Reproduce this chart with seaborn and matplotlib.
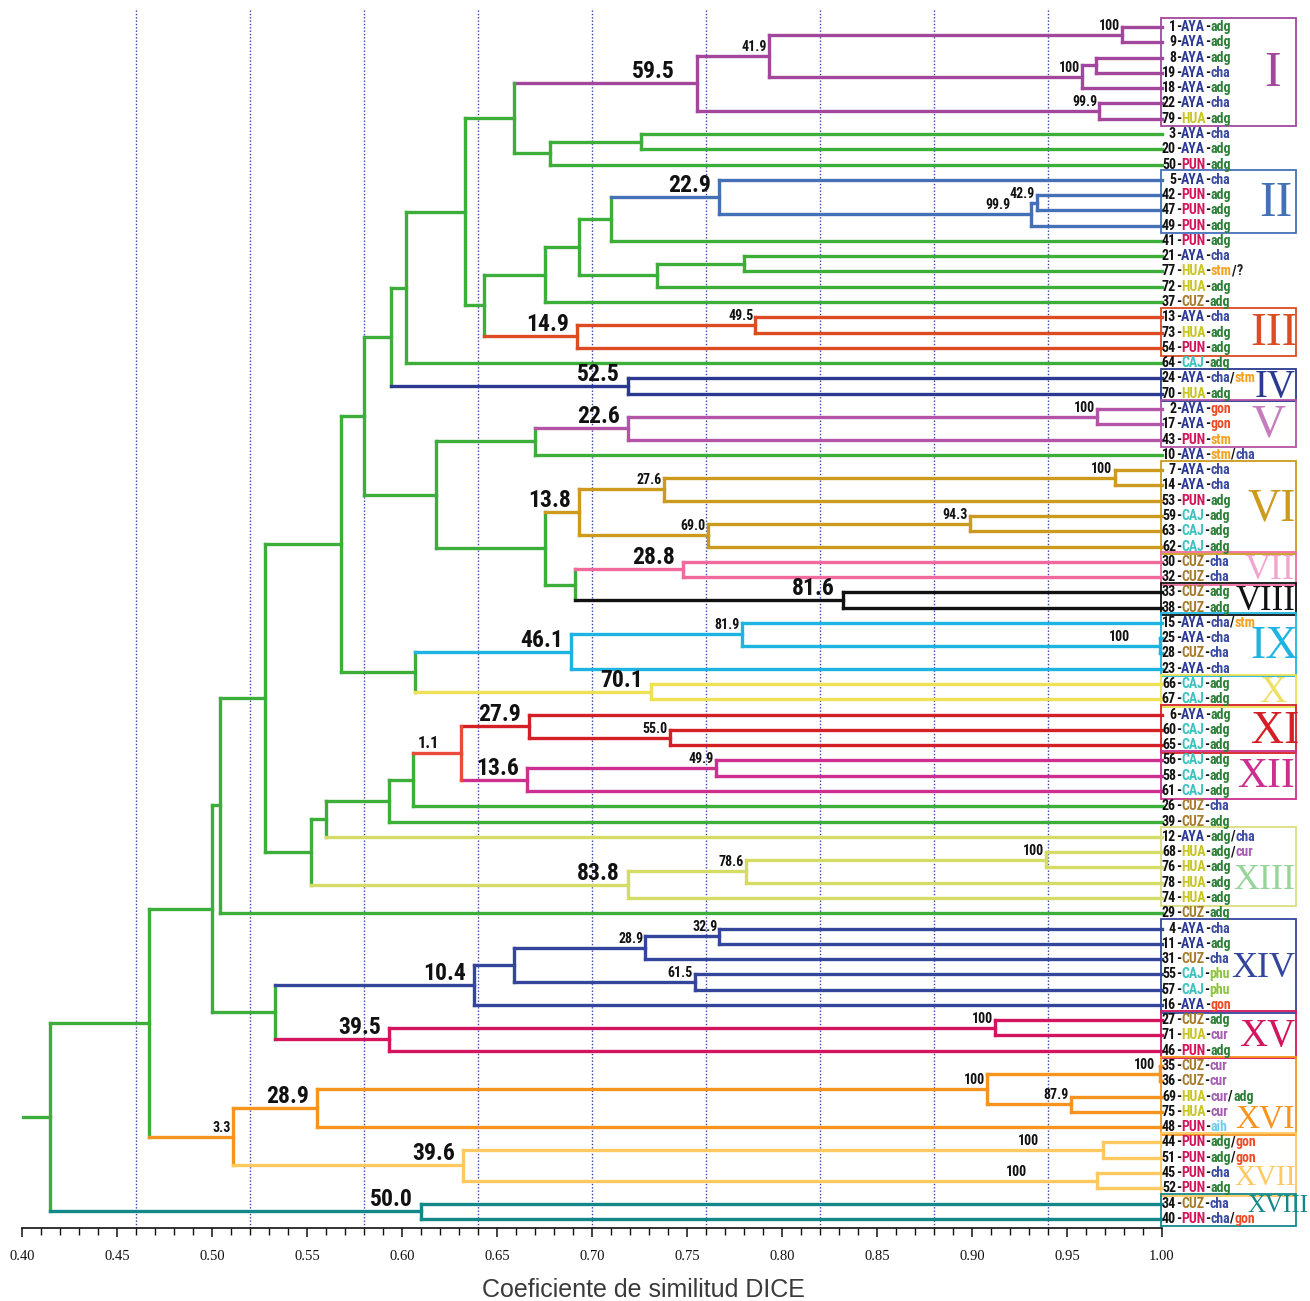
import numpy as np
import pandas as pd
import seaborn as sns
import matplotlib
matplotlib.use("Agg")
import matplotlib.pyplot as plt
from matplotlib import font_manager
from matplotlib.patches import Rectangle

# --- hojas (de arriba a abajo) ---
leaf_num = [1, 9, 8, 19, 18, 22, 79, 3, 20, 50, 5, 42, 47, 49, 41, 21, 77, 72, 37,
            13, 73, 54, 64, 24, 70, 2, 17, 43, 10, 7, 14, 53, 59, 63, 62, 30, 32,
            33, 38, 15, 25, 28, 23, 66, 67, 6, 60, 65, 56, 58, 61, 26, 39, 12, 68,
            76, 78, 74, 29, 4, 11, 31, 55, 57, 16, 27, 71, 46, 35, 36, 69, 75, 48,
            44, 51, 45, 52, 34, 40]
leaf_origin = (["AYA"] * 6 + ["HUA"] + ["AYA", "AYA", "PUN"] + ["AYA", "PUN", "PUN", "PUN"]
               + ["PUN", "AYA", "HUA", "HUA", "CUZ"] + ["AYA", "HUA", "PUN"] + ["CAJ"]
               + ["AYA", "HUA"] + ["AYA", "AYA", "PUN", "AYA"]
               + ["AYA", "AYA", "PUN", "CAJ", "CAJ", "CAJ"] + ["CUZ"] * 4
               + ["AYA", "AYA", "CUZ", "AYA"] + ["CAJ", "CAJ"] + ["AYA", "CAJ", "CAJ"]
               + ["CAJ"] * 3 + ["CUZ", "CUZ"] + ["AYA"] + ["HUA"] * 4 + ["CUZ"]
               + ["AYA", "AYA", "CUZ", "CAJ", "CAJ", "AYA"] + ["CUZ", "HUA", "PUN"]
               + ["CUZ", "CUZ", "HUA", "HUA", "PUN"] + ["PUN"] * 4 + ["CUZ", "PUN"])
leaf_use = (["adg", "adg", "adg", "cha", "adg", "cha", "adg"] + ["cha", "adg", "adg"]
            + ["cha", "adg", "adg", "adg"] + ["adg", "cha", "stm/?", "adg", "adg"]
            + ["cha", "adg", "adg"] + ["adg"] + ["cha/stm", "adg"]
            + ["gon", "gon", "stm", "stm/cha"] + ["cha", "cha", "adg", "adg", "adg", "adg"]
            + ["cha", "cha", "adg", "adg"] + ["cha/stm", "cha", "cha", "cha"]
            + ["adg", "adg"] + ["adg"] * 3 + ["adg"] * 3 + ["cha", "adg"]
            + ["adg/cha", "adg/cur", "adg", "adg", "adg"] + ["adg"]
            + ["cha", "adg", "cha", "phu", "phu", "gon"] + ["adg", "cur", "adg"]
            + ["cur", "cur", "cur/adg", "cur", "aih"] + ["adg/gon", "adg/gon", "cha", "adg"]
            + ["cha", "cha/gon"])

# --- uniones: (nodo, hijo a, hijo b, coeficiente DICE) ---
links_I = [("a1", 0, 1, 0.979), ("a2", 2, 3, 0.965), ("a3", "a2", 4, 0.958),
           ("a4", "a1", "a3", 0.793), ("a5", 5, 6, 0.967), ("I", "a4", "a5", 0.755),
           ("b1", 7, 8, 0.726), ("b2", "b1", 9, 0.678), ("c1", "I", "b2", 0.659)]
links_II_III = [("d1", 11, 12, 0.934), ("d2", "d1", 13, 0.931), ("II", 10, "d2", 0.767),
                ("d3", "II", 14, 0.710), ("e1", 15, 16, 0.780), ("e2", "e1", 17, 0.734),
                ("d4", "d3", "e2", 0.693), ("d5", "d4", 18, 0.675),
                ("f1", 19, 20, 0.786), ("III", "f1", 21, 0.692), ("d6", "d5", "III", 0.643),
                ("c2", "c1", "d6", 0.633), ("c3", "c2", 22, 0.602)]
links_IV_VIII = [("IV", 23, 24, 0.719), ("c4", "c3", "IV", 0.594),
                 ("g1", 25, 26, 0.966), ("V", "g1", 27, 0.719), ("g2", "V", 28, 0.670),
                 ("h1", 29, 30, 0.975), ("h2", "h1", 31, 0.738), ("h3", 32, 33, 0.899),
                 ("h4", "h3", 34, 0.761), ("VI", "h2", "h4", 0.693),
                 ("VII", 35, 36, 0.748), ("VIII", 37, 38, 0.832), ("h5", "VII", "VIII", 0.691),
                 ("h6", "VI", "h5", 0.675), ("g3", "g2", "h6", 0.618), ("c5", "c4", "g3", 0.580)]
links_IX_XIII = [("i1", 40, 41, 0.999), ("i2", 39, "i1", 0.779), ("IX", "i2", 42, 0.689),
                 ("X", 43, 44, 0.731), ("i3", "IX", "X", 0.607), ("c6", "c5", "i3", 0.568),
                 ("j1", 46, 47, 0.741), ("XI", 45, "j1", 0.667), ("k1", 48, 49, 0.765),
                 ("XII", "k1", 50, 0.666), ("l1", "XI", "XII", 0.631), ("l2", "l1", 51, 0.606),
                 ("l3", "l2", 52, 0.593), ("l4", "l3", 53, 0.560),
                 ("m1", 54, 55, 0.939), ("m2", "m1", 56, 0.781), ("XIII", "m2", 57, 0.719),
                 ("l5", "l4", "XIII", 0.552), ("c7", "c6", "l5", 0.528), ("c8", "c7", 58, 0.504)]
links_XIV_XVIII = [("n1", 59, 60, 0.767), ("n2", "n1", 61, 0.728), ("n3", 62, 63, 0.754),
                   ("n4", "n2", "n3", 0.659), ("XIV", "n4", 64, 0.638),
                   ("o1", 65, 66, 0.912), ("XV", "o1", 67, 0.593), ("p1", "XIV", "XV", 0.533),
                   ("c9", "c8", "p1", 0.500),
                   ("q1", 68, 69, 0.999), ("q2", 70, 71, 0.952), ("q3", "q1", "q2", 0.908),
                   ("XVI", "q3", 72, 0.555), ("r1", 73, 74, 0.969), ("r2", 75, 76, 0.966),
                   ("XVII", "r1", "r2", 0.632), ("s1", "XVI", "XVII", 0.511),
                   ("c10", "c9", "s1", 0.467), ("XVIII", 77, 78, 0.610),
                   ("root", "c10", "XVIII", 0.415)]
links = links_I + links_II_III + links_IV_VIII + links_IX_XIII + links_XIV_XVIII

# --- valores de bootstrap ---
big_support = [("I", "59.5"), ("II", "22.9"), ("III", "14.9"), ("IV", "52.5"), ("V", "22.6"),
               ("VI", "13.8"), ("VII", "28.8"), ("VIII", "81.6"), ("IX", "46.1"), ("X", "70.1"),
               ("XI", "27.9"), ("XII", "13.6"), ("XIII", "83.8"), ("XIV", "10.4"), ("XV", "39.5"),
               ("XVI", "28.9"), ("XVII", "39.6"), ("XVIII", "50.0")]
small_support = [("a1", "100"), ("a3", "100"), ("a4", "41.9"), ("a5", "99.9"), ("d1", "42.9"),
                 ("d2", "99.9"), ("f1", "49.5"), ("g1", "100"), ("h1", "100"), ("h2", "27.6"),
                 ("h3", "94.3"), ("h4", "69.0"), ("i1", "100"), ("i2", "81.9"), ("j1", "55.0"),
                 ("k1", "49.9"), ("l1", "1.1"), ("m1", "100"), ("m2", "78.6"), ("n1", "32.9"),
                 ("n2", "28.9"), ("n3", "61.5"), ("o1", "100"), ("q1", "100"), ("q2", "87.9"),
                 ("q3", "100"), ("r1", "100"), ("r2", "100"), ("s1", "3.3")]

# --- grupos (recuadros) ---
group_names = ["I", "II", "III", "IV", "V", "VI", "VII", "VIII", "IX", "X", "XI", "XII",
               "XIII", "XIV", "XV", "XVI", "XVII", "XVIII"]
group_first = [0, 10, 19, 23, 25, 29, 35, 37, 39, 43, 45, 48, 53, 59, 65, 68, 73, 77]
group_last = [6, 13, 21, 24, 27, 34, 36, 38, 42, 44, 47, 50, 57, 64, 67, 72, 76, 78]

# colores
GREEN = "#3DAE3A"
group_color = {"I": "#A2479C", "II": "#4470B6", "III": "#DD4B22", "IV": "#2B3990",
               "V": "#B354A6", "VI": "#CC9A1C", "VII": "#F06A9E", "VIII": "#111111",
               "IX": "#1DB4E2", "X": "#EEE155", "XI": "#D51F26", "XII": "#CC2F8E",
               "XIII": "#D5DC66", "XIV": "#33469C", "XV": "#D3145E", "XVI": "#F7941D",
               "XVII": "#FFC860", "XVIII": "#13888A"}
numeral_color = dict(group_color, V="#C77CBE", VII="#F2A6CF", XIII="#98D49A", X="#EEE066")
special_color = {"l1": "#EC4A3C", "s1": "#F7941D", 53: "#D5DC66"}
origin_color = {"AYA": "#2B3A94", "PUN": "#D4145A", "HUA": "#C9C422", "CUZ": "#A57A2C",
                "CAJ": "#3CC1C1"}
use_color = {"adg": "#2D7E36", "cha": "#3A4AA2", "gon": "#EE4A24", "stm": "#F7A21B",
             "cur": "#A45DB0", "phu": "#8CC63F", "aih": "#6DCDF3", "?": "#222222"}


def first_font(names):
    for n in names:
        try:
            font_manager.findfont(font_manager.FontProperties(family=n), fallback_to_default=False)
            return n
        except ValueError:
            pass
    return None


narrow = first_font(["Liberation Sans Narrow", "Roboto Condensed", "Open Sans Condensed"])
label_font = narrow or "Liberation Sans"
leaf_size = 10 if narrow else 8.3
big_size = 17 if narrow else 14.5
small_size = 10 if narrow else 8.5

sns.set_theme(style="white")
plt.rcParams["font.family"] = ["Liberation Sans", "DejaVu Sans"]


def px2x(px):
    return 0.40 + (px - 22) / 1900.0


# posiciones de nodos
pos = {i: (1.0, float(i)) for i in range(len(leaf_num))}
children = {}
for name, a, b, s in links:
    pos[name] = (s, (pos[a][1] + pos[b][1]) / 2)
    children[name] = (a, b)

color = {}


def paint(node, inherited):
    c = group_color.get(node) or special_color.get(node) or inherited
    color[node] = c
    for ch in children.get(node, ()):
        paint(ch, c)


paint("root", GREEN)

rows = []
seg = 0
for name, a, b, s in links:
    rows += [(seg, s, pos[a][1], color[name]), (seg, s, pos[b][1], color[name])]
    seg += 1
    for ch in (a, b):
        rows += [(seg, s, pos[ch][1], color[ch]), (seg, pos[ch][0], pos[ch][1], color[ch])]
        seg += 1
rx, ry = pos["root"]
rows += [(seg, 0.4005, ry, GREEN), (seg, rx, ry, GREEN)]
seg_df = pd.DataFrame(rows, columns=["seg", "x", "y", "color"])

fig = plt.figure(figsize=(13.1, 13.01), dpi=100)
ax = fig.add_axes([0, 73 / 1301, 1, 1228 / 1301])

# lineas punteadas de referencia
grid_x = [0.46, 0.52, 0.58, 0.64, 0.70, 0.76, 0.82, 0.88, 0.94]
ax.vlines(grid_x, -1.1, 78.6, colors="#3444A6", linestyles=(0, (1, 1.4)), linewidth=1.0, zorder=1)

palette = {c: c for c in seg_df["color"].unique()}
sns.lineplot(data=seg_df, x="x", y="y", units="seg", estimator=None, sort=False, hue="color",
             palette=palette, legend=False, linewidth=2.4, solid_capstyle="projecting",
             ax=ax, zorder=3)

ax.set_xlim(px2x(0), px2x(1310))
ax.set_ylim(78.6, (0 - 27) / 15.28)
ax.set_xlabel("")
ax.set_ylabel("")
ax.set_yticks([])
for side in ["left", "top", "right"]:
    ax.spines[side].set_visible(False)
ax.spines["bottom"].set_bounds(0.40, 1.00)
ax.spines["bottom"].set_linewidth(1.2)
ax.spines["bottom"].set_color("#111111")
major = np.round(np.arange(0.40, 1.0001, 0.05), 2)
ax.set_xticks(major)
ax.set_xticklabels([f"{v:.2f}" for v in major], family="Liberation Serif", fontsize=10.5)
ax.set_xticks(np.round(np.arange(0.40, 1.0001, 0.01), 2), minor=True)
ax.tick_params(axis="x", which="major", direction="out", length=6.5, width=1.1, pad=9,
               colors="#111111", bottom=True)
ax.tick_params(axis="x", which="minor", direction="out", length=5, width=1.0,
               color="#111111", bottom=True)

fig.text(643 / 1310, 1 - 1290 / 1301, "Coeficiente de similitud DICE", ha="center",
         va="center", fontsize=18, color="#3A3A3A", family="Liberation Sans")

# bootstrap
dx_override = {"I": -22, "d2": -20, "i1": -30, "r1": -64, "r2": -70, "l1": -22, "q1": -5}
for lst, size, dx0, dy in [(big_support, big_size, -8, 5), (small_support, small_size, -2, 5)]:
    for node, txt in lst:
        fs = 12 if node == "l1" else size
        dx = dx_override.get(node, dx0)
        ax.annotate(txt, xy=pos[node], xytext=(dx * 0.72, dy * 0.72), textcoords="offset points",
                    ha="right", va="baseline", fontsize=fs, fontweight="bold",
                    family=label_font, color="#111111", zorder=5)

# etiquetas de hojas multicolor
for i in range(len(leaf_num)):
    pieces = [("-", "#111111"), (leaf_origin[i], origin_color[leaf_origin[i]]), ("-", "#111111")]
    for k, u in enumerate(leaf_use[i].split("/")):
        if k:
            pieces.append(("/", "#111111"))
        pieces.append((u, use_color[u]))
    prev = ax.text(px2x(1176), i, str(leaf_num[i]), ha="right", va="center", fontsize=leaf_size,
                   fontweight="bold", family=label_font, color="#111111", zorder=5)
    for txt, col in pieces:
        prev = ax.annotate(txt, xy=(1, 0), xycoords=prev, ha="left", va="bottom",
                           fontsize=leaf_size, fontweight="bold", family=label_font,
                           color=col, zorder=5)

# recuadros y numeros romanos: (alineacion, x en px, tamano, desplazamiento vertical)
numeral_place = {"I": ("center", 1273, 36, 0), "II": ("center", 1276, 36, 0),
                 "III": ("center", 1274, 34, 0), "IV": ("right", 1295, 28, 0),
                 "V": ("center", 1268, 34, 0), "VI": ("center", 1272, 33, 0),
                 "VII": ("right", 1295, 26, 0), "VIII": ("right", 1295, 25, 0),
                 "IX": ("center", 1275, 33, 0), "X": ("center", 1273, 27, 0),
                 "XI": ("center", 1275, 33, 0), "XII": ("right", 1295, 30, 0),
                 "XIII": ("right", 1295, 26, 0.8), "XIV": ("right", 1295, 26, 0),
                 "XV": ("right", 1295, 28, 0), "XVI": ("right", 1295, 24, 1.4),
                 "XVII": ("right", 1296, 21, 0.75), "XVIII": ("right", 1309, 18, -0.45)}
for g, f, l in zip(group_names, group_first, group_last):
    y0, y1 = f - 0.62, l + 0.5
    ax.add_patch(Rectangle((px2x(1161), y0), px2x(1296) - px2x(1161), y1 - y0, fill=False,
                           edgecolor=group_color[g] if g != "XIII" else "#D9DE7E",
                           linewidth=1.3, zorder=4))
    ha, px, fs, dy = numeral_place[g]
    ax.text(px2x(px), (y0 + y1) / 2 + 0.15 + dy, g, ha=ha, va="center", fontsize=fs,
            family="Liberation Serif", color=numeral_color[g], zorder=4)

fig.savefig("out.png", dpi=100)
